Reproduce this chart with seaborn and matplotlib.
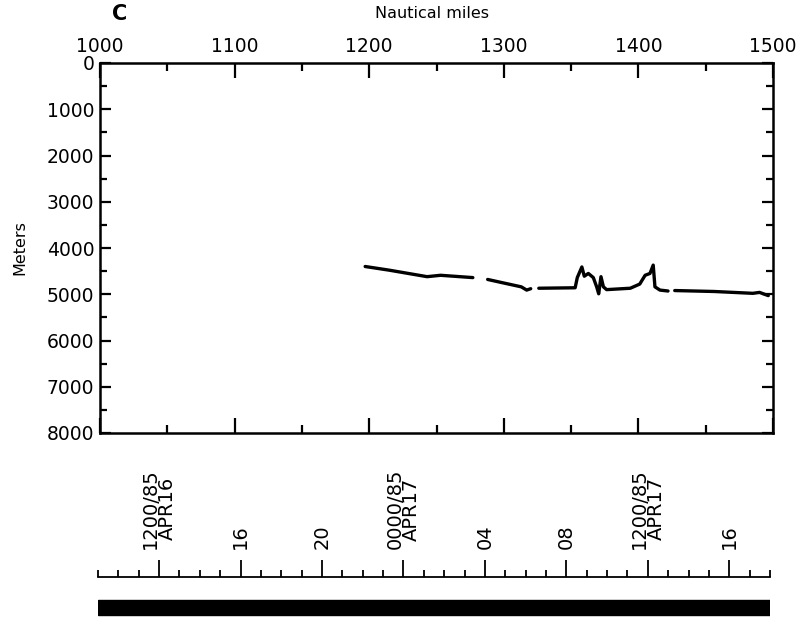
import numpy as np
import pandas as pd
import matplotlib
matplotlib.use('Agg')
import matplotlib.pyplot as plt
import seaborn as sns
from matplotlib.ticker import MultipleLocator, FixedLocator

# bathymetry profile (nautical miles, meters)
seg1_nm = [1197, 1215, 1243, 1253, 1277]
seg1_m = [4400, 4480, 4620, 4590, 4640]
seg2_nm = [1288, 1302, 1313, 1317, 1320]
seg2_m = [4680, 4770, 4840, 4910, 4880]
seg3_nm = [1326, 1353, 1354.6, 1358, 1359.8, 1362.8, 1366.5, 1369, 1370.5, 1372.2,
           1374, 1376.4, 1394, 1401, 1405, 1408.6, 1411, 1412.3, 1416, 1422]
seg3_m = [4870, 4860, 4640, 4410, 4610, 4550, 4640, 4840, 4990, 4620,
          4840, 4900, 4870, 4780, 4590, 4550, 4370, 4840, 4910, 4930]
seg4_nm = [1427, 1456, 1485, 1490, 1496.5]
seg4_m = [4920, 4940, 4980, 4960, 5030]

# time scale below (hours from 0000 APR16)
time_major = [12, 16, 20, 24, 28, 32, 36, 40]
time_labels = ['1200/85\nAPR16', '16', '20', '0000/85\nAPR17', '04', '08',
               '1200/85\nAPR17', '16']
time_start = 9
time_end = 42
bar_end = 42.15

segs = [(seg1_nm, seg1_m), (seg2_nm, seg2_m), (seg3_nm, seg3_m), (seg4_nm, seg4_m)]
rows = []
for i, (xs, ys) in enumerate(segs):
    for a, b in zip(xs, ys):
        rows.append({'nm': a, 'depth': b, 'seg': i})
df = pd.DataFrame(rows)

sns.set_style('white', {'text.color': 'black', 'xtick.color': 'black',
                        'ytick.color': 'black', 'axes.labelcolor': 'black',
                        'axes.edgecolor': 'black'})
plt.rcParams['font.family'] = ['DejaVu Sans']

fig = plt.figure(figsize=(8.11, 6.17), dpi=100)
W, H = 811, 617

# main profile axes
ax = fig.add_axes([100 / W, 1 - 433 / H, 673 / W, 370 / H])
sns.lineplot(data=df, x='nm', y='depth', units='seg', estimator=None,
             color='black', linewidth=2.4, ax=ax, legend=False)
ax.set_xlim(1000, 1500)
ax.set_ylim(8000, 0)
ax.xaxis.set_major_locator(MultipleLocator(100))
ax.xaxis.set_minor_locator(MultipleLocator(50))
ax.yaxis.set_major_locator(MultipleLocator(1000))
ax.yaxis.set_minor_locator(MultipleLocator(500))
ax.tick_params(which='both', direction='in', top=True, bottom=True, left=True, right=True,
               labeltop=True, labelbottom=False, labelsize=13.5, color='black', width=1.6)
ax.tick_params(which='major', length=8, pad=4)
ax.tick_params(which='minor', length=5)
ax.tick_params(axis='x', which='major', length=11, pad=5)
ax.tick_params(axis='x', which='minor', length=6)
for s in ax.spines.values():
    s.set_visible(True)
    s.set_color('black')
    s.set_linewidth(1.8)
ax.set_xlabel('')
ax.set_ylabel('Meters', fontsize=11.5, labelpad=14)
ax.grid(False)

fig.text(112 / W, 1 - 14 / H, 'C', fontsize=15, fontweight='bold', ha='left', va='center')
fig.text(432 / W, 1 - 13 / H, 'Nautical miles', fontsize=11.5, ha='center', va='center')

# time scale axes
tx = fig.add_axes([98 / W, 1 - 617 / H, 672 / W, 40 / H])
tx.barh(y=[9.5], width=[bar_end - time_start], left=[time_start], height=15,
        color='black', edgecolor='black')
tx.set_xlim(time_start, time_end)
tx.set_ylim(0, 40)
tx.set_clip_on(False)
for k in ['left', 'right', 'bottom']:
    tx.spines[k].set_visible(False)
tx.spines['top'].set_color('black')
tx.spines['top'].set_linewidth(1.3)
tx.set_yticks([])
tx.xaxis.set_major_locator(FixedLocator(time_major))
tx.xaxis.set_minor_locator(FixedLocator(list(range(time_start, time_end + 1))))
tx.xaxis.set_ticklabels(time_labels)
tx.tick_params(axis='x', which='both', top=True, bottom=False, labeltop=True,
               labelbottom=False, direction='out', color='black', width=1.3)
tx.tick_params(axis='x', which='major', length=12, pad=8, labelsize=14, labelrotation=90)
tx.tick_params(axis='x', which='minor', length=5)
for t in tx.get_xticklabels():
    t.set_linespacing(0.85)
tx.set_facecolor('none')
tx.grid(False)

fig.savefig('out.png', dpi=100)
